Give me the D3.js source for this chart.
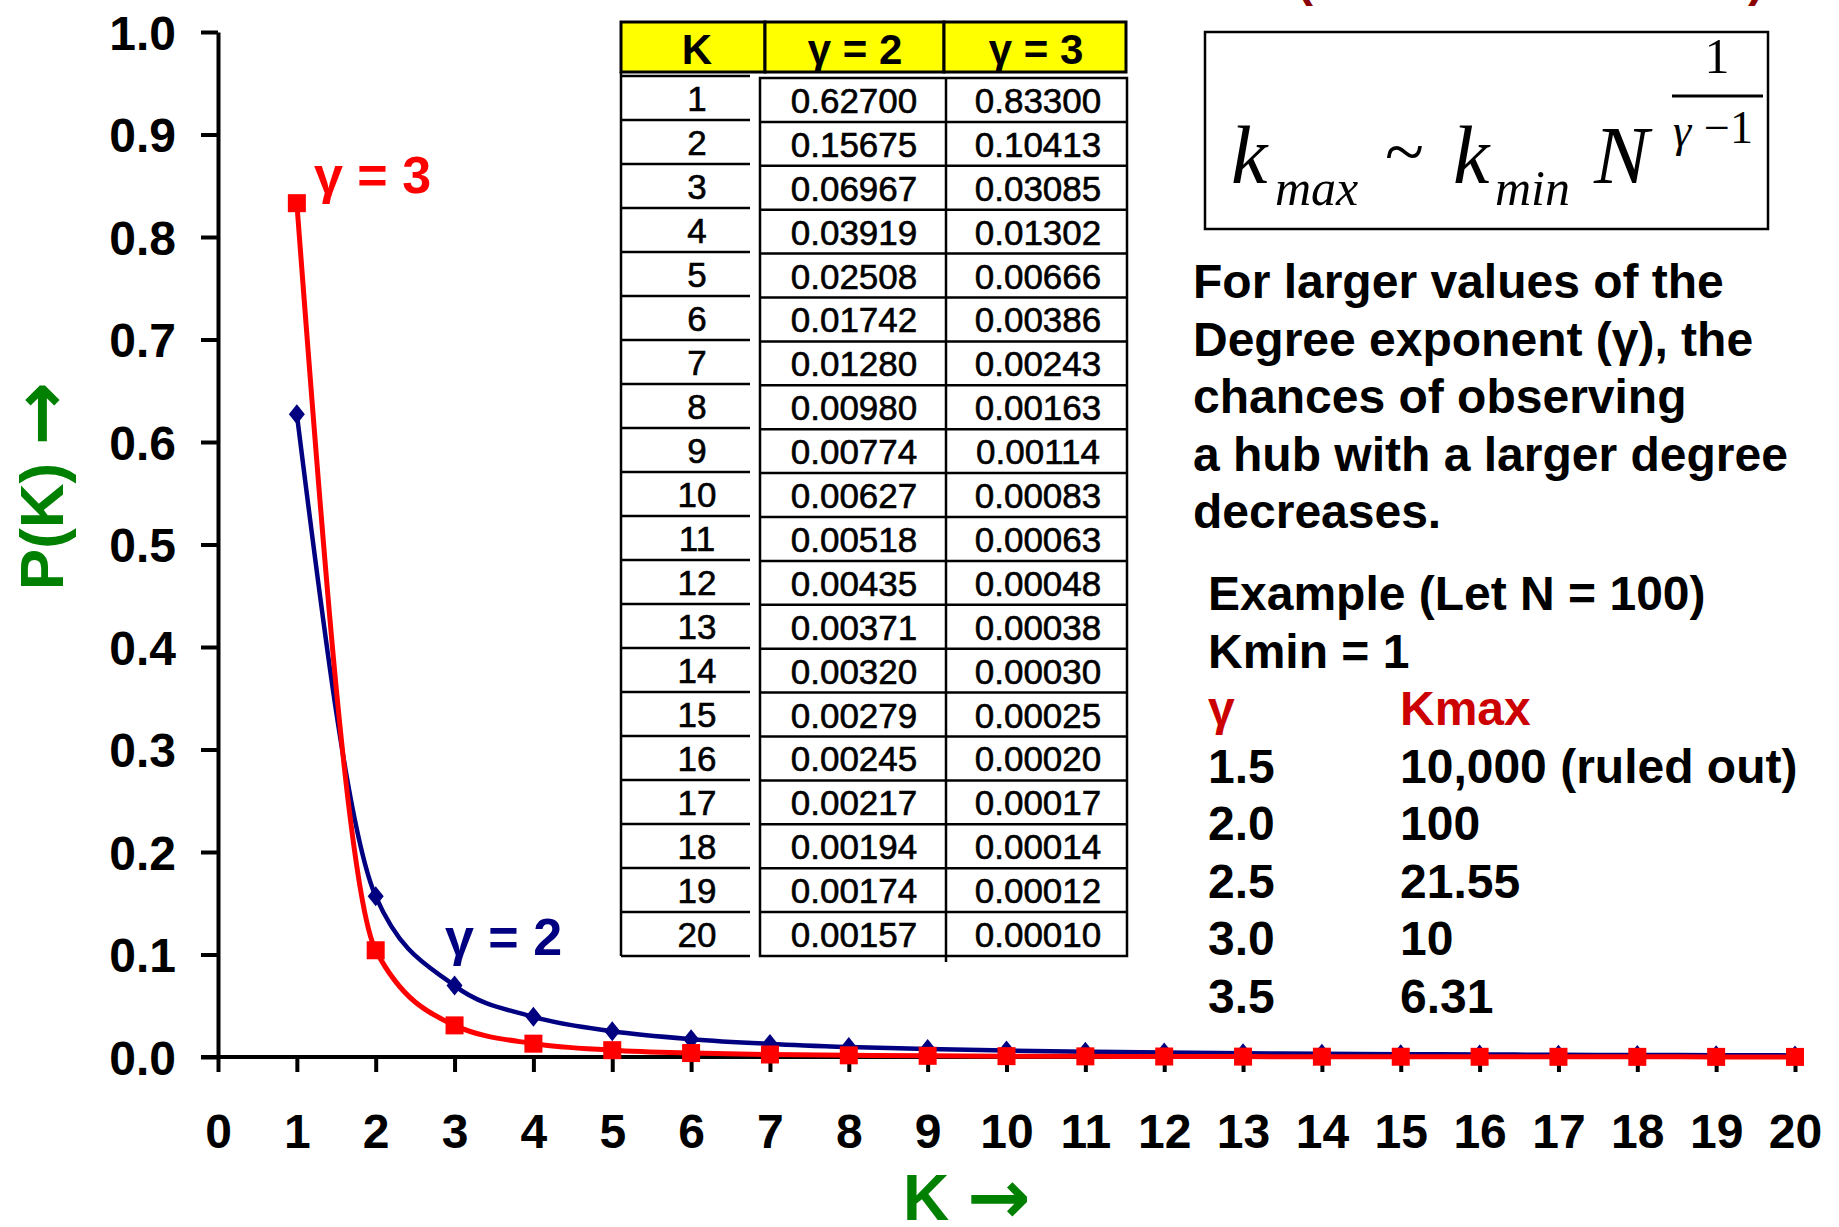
<!DOCTYPE html>
<meta charset="utf-8">
<style>
body { margin: 0; background: #fff; }
svg { display: block; font-family: "Liberation Sans", Arial, sans-serif; }
.axis path, .axis line { stroke: #000; stroke-width: 4px; }
.axis text { font-size: 48px; font-weight: bold; fill: #000; }
.note { font-size: 48px; font-weight: bold; }
.tbl text { font-size: 35px; stroke: #000; stroke-width: 0.6px; }
.tbl .hdr { font-size: 42px; font-weight: bold; stroke: none; }
.formula text { font-family: "Liberation Serif", "Times New Roman", serif; }
.arrow { font-family: "DejaVu Sans", sans-serif; font-weight: bold; font-size: 76px; }
</style>
<body>
<script src="https://d3js.org/d3.v7.min.js"></script>
<script>

// data from the table
var kValues = [1, 2, 3, 4, 5, 6, 7, 8, 9, 10, 11, 12, 13, 14, 15, 16, 17, 18, 19, 20];
var gamma2 = [0.62700, 0.15675, 0.06967, 0.03919, 0.02508, 0.01742, 0.01280, 0.00980, 0.00774, 0.00627,
              0.00518, 0.00435, 0.00371, 0.00320, 0.00279, 0.00245, 0.00217, 0.00194, 0.00174, 0.00157];
var gamma3 = [0.83300, 0.10413, 0.03085, 0.01302, 0.00666, 0.00386, 0.00243, 0.00163, 0.00114, 0.00083,
              0.00063, 0.00048, 0.00038, 0.00030, 0.00025, 0.00020, 0.00017, 0.00014, 0.00012, 0.00010];
var xTicks = d3.range(0, 21);
var yTicks = [0, 0.1, 0.2, 0.3, 0.4, 0.5, 0.6, 0.7, 0.8, 0.9, 1.0];
var headers = ["K", "\u03b3 = 2", "\u03b3 = 3"];

var noteLines = ["For larger values of the", "Degree exponent (\u03b3), the", "chances of observing",
                 "a hub with a larger degree", "decreases."];
var exampleLines = ["Example (Let N = 100)", "Kmin = 1"];
var exGamma = ["1.5", "2.0", "2.5", "3.0", "3.5"];
var exKmax = ["10,000 (ruled out)", "100", "21.55", "10", "6.31"];

var width = 1839, height = 1227;
var navy = "#000080", red = "#ff0000", green = "#008000";

var svg = d3.select("body").append("svg")
    .attr("width", width)
    .attr("height", height);

svg.append("rect").attr("width", width).attr("height", height).attr("fill", "#fff");

var x = d3.scaleLinear().domain([0, 20]).range([218, 1795]);
var y = d3.scaleLinear().domain([0, 1]).range([1057, 32]);

// axes
var yAxis = svg.append("g")
    .attr("class", "axis")
    .attr("transform", "translate(218,0)")
    .call(d3.axisLeft(y).tickValues(yTicks).tickSize(17).tickPadding(25).tickSizeOuter(0).tickFormat(d3.format(".1f")));
yAxis.selectAll("text").attr("dy", "0.36em");

var xAxis = svg.append("g")
    .attr("class", "axis")
    .attr("transform", "translate(0,1057)")
    .call(d3.axisBottom(x).tickValues(xTicks).tickSize(15).tickSizeOuter(0).tickFormat(d3.format("d")));
xAxis.selectAll("text").attr("y", 91).attr("dy", 0);
xAxis.select(".domain").attr("d", "M201,0H1800");

// series
var line = d3.line()
    .x(function(d, i) { return x(kValues[i]); })
    .y(function(d) { return y(d); })
    .curve(d3.curveMonotoneX);

svg.append("path").datum(gamma2)
    .attr("fill", "none").attr("stroke", navy).attr("stroke-width", 4.5)
    .attr("d", line);

svg.append("g").selectAll("path").data(gamma2).enter().append("path")
    .attr("transform", function(d, i) { return "translate(" + x(kValues[i]) + "," + y(d) + ")"; })
    .attr("d", "M0,-10L8,0L0,10L-8,0Z")
    .attr("fill", navy);

svg.append("path").datum(gamma3)
    .attr("fill", "none").attr("stroke", red).attr("stroke-width", 5)
    .attr("d", line);

svg.append("g").selectAll("rect").data(gamma3).enter().append("rect")
    .attr("x", function(d, i) { return x(kValues[i]) - 9; })
    .attr("y", function(d) { return y(d) - 9; })
    .attr("width", 18).attr("height", 18)
    .attr("fill", red);

// series labels
svg.append("text").attr("class", "note").attr("x", 314).attr("y", 193)
    .attr("fill", red).style("font-size", "52px").text("\u03b3 = 3");
svg.append("text").attr("class", "note").attr("x", 445).attr("y", 955)
    .attr("fill", navy).style("font-size", "52px").text("\u03b3 = 2");

// axis titles
var yTitle = svg.append("text").attr("class", "note")
    .attr("transform", "translate(63,486) rotate(-90)")
    .attr("text-anchor", "middle").attr("fill", green).style("font-size", "62px");
yTitle.append("tspan").text("P(K) ");
yTitle.append("tspan").attr("class", "arrow").attr("dy", 3).text("\u2192");

var xTitle = svg.append("text").attr("class", "note")
    .attr("x", 903).attr("y", 1220)
    .attr("fill", green).style("font-size", "64px");
xTitle.append("tspan").text("K ");
xTitle.append("tspan").attr("class", "arrow").attr("dy", 3).text("\u2192");

// table
var tbl = svg.append("g").attr("class", "tbl");
var colEdges = [621, 765, 944, 1126];
var rowY = d3.scaleLinear().domain([0, 20]).range([78, 956]);
var kRowY = d3.scaleLinear().domain([0, 20]).range([76, 956]);

tbl.selectAll("rect.h").data(headers).enter().append("rect")
    .attr("x", function(d, i) { return colEdges[i]; })
    .attr("y", 22)
    .attr("width", function(d, i) { return colEdges[i + 1] - colEdges[i]; })
    .attr("height", 50)
    .attr("fill", "#ffff00").attr("stroke", "#000").attr("stroke-width", 3);

tbl.selectAll("text.hdr").data(headers).enter().append("text")
    .attr("class", "hdr")
    .attr("x", function(d, i) { return [697, 855, 1036][i]; })
    .attr("y", 64)
    .attr("text-anchor", "middle")
    .text(function(d) { return d; });

// K column: left edge + row lines
tbl.append("line").attr("x1", 621).attr("x2", 621).attr("y1", 72).attr("y2", 956)
    .attr("stroke", "#000").attr("stroke-width", 2.5);
tbl.selectAll("line.k").data(d3.range(0, 21)).enter().append("line")
    .attr("x1", 621).attr("x2", 750)
    .attr("y1", function(d) { return kRowY(d); })
    .attr("y2", function(d) { return kRowY(d); })
    .attr("stroke", "#000").attr("stroke-width", 2.5);

// value grid
tbl.append("rect").attr("x", 760).attr("y", 78).attr("width", 367).attr("height", 878)
    .attr("fill", "none").attr("stroke", "#000").attr("stroke-width", 2.5);
tbl.append("line").attr("x1", 946).attr("x2", 946).attr("y1", 78).attr("y2", 962)
    .attr("stroke", "#000").attr("stroke-width", 2.5);
tbl.selectAll("line.v").data(d3.range(1, 20)).enter().append("line")
    .attr("x1", 760).attr("x2", 1127)
    .attr("y1", function(d) { return rowY(d); })
    .attr("y2", function(d) { return rowY(d); })
    .attr("stroke", "#000").attr("stroke-width", 2.5);

tbl.selectAll("text.kv").data(kValues).enter().append("text")
    .attr("x", 697)
    .attr("y", function(d, i) { return kRowY(i + 1) - 9; })
    .attr("text-anchor", "middle")
    .text(function(d) { return d; });
tbl.selectAll("text.g2").data(gamma2).enter().append("text")
    .attr("x", 854)
    .attr("y", function(d, i) { return rowY(i + 1) - 9; })
    .attr("text-anchor", "middle")
    .text(function(d) { return d.toFixed(5); });
tbl.selectAll("text.g3").data(gamma3).enter().append("text")
    .attr("x", 1038)
    .attr("y", function(d, i) { return rowY(i + 1) - 9; })
    .attr("text-anchor", "middle")
    .text(function(d) { return d.toFixed(5); });

// formula box
var f = svg.append("g").attr("class", "formula");
f.append("rect").attr("x", 1205).attr("y", 32).attr("width", 563).attr("height", 197)
    .attr("fill", "#fff").attr("stroke", "#000").attr("stroke-width", 2.5);
f.append("text").attr("x", 1231).attr("y", 183).style("font-size", "82px").style("font-style", "italic").text("k");
f.append("text").attr("x", 1275).attr("y", 205).style("font-size", "50px").style("font-style", "italic").text("max");
f.append("text").attr("x", 1385).attr("y", 176).style("font-size", "72px").text("~");
f.append("text").attr("x", 1453).attr("y", 183).style("font-size", "82px").style("font-style", "italic").text("k");
f.append("text").attr("x", 1495).attr("y", 205).style("font-size", "50px").style("font-style", "italic").text("min");
f.append("text").attr("x", 1594).attr("y", 183).style("font-size", "82px").style("font-style", "italic").text("N");
f.append("text").attr("x", 1673).attr("y", 146).style("font-size", "46px").style("font-style", "italic").text("\u03b3");
f.append("text").attr("x", 1704).attr("y", 143).style("font-size", "46px").text("\u22121");
f.append("line").attr("x1", 1672).attr("x2", 1763).attr("y1", 96).attr("y2", 96)
    .attr("stroke", "#000").attr("stroke-width", 3);
f.append("text").attr("x", 1717).attr("y", 73).attr("text-anchor", "middle").style("font-size", "50px").text("1");

// clipped title remnants at the top edge
svg.append("text").attr("class", "note").attr("x", 1297).attr("y", -4).attr("fill", "#8b0000").text("(");
svg.append("text").attr("class", "note").attr("x", 1748).attr("y", -4).attr("fill", "#8b0000").text(")");

// explanation text
svg.append("g").selectAll("text").data(noteLines).enter().append("text")
    .attr("class", "note")
    .attr("x", 1193)
    .attr("y", function(d, i) { return 298 + i * 57.5; })
    .text(function(d) { return d; });

svg.append("g").selectAll("text").data(exampleLines).enter().append("text")
    .attr("class", "note")
    .attr("x", 1208)
    .attr("y", function(d, i) { return 610 + i * 57.5; })
    .text(function(d) { return d; });

svg.append("text").attr("class", "note").attr("x", 1208).attr("y", 725).attr("fill", "#cc0000").text("\u03b3");
svg.append("text").attr("class", "note").attr("x", 1400).attr("y", 725).attr("fill", "#cc0000").text("Kmax");

svg.append("g").selectAll("text").data(exGamma).enter().append("text")
    .attr("class", "note")
    .attr("x", 1208)
    .attr("y", function(d, i) { return 782.5 + i * 57.5; })
    .text(function(d) { return d; });
svg.append("g").selectAll("text").data(exKmax).enter().append("text")
    .attr("class", "note")
    .attr("x", 1400)
    .attr("y", function(d, i) { return 782.5 + i * 57.5; })
    .text(function(d) { return d; });

</script>
